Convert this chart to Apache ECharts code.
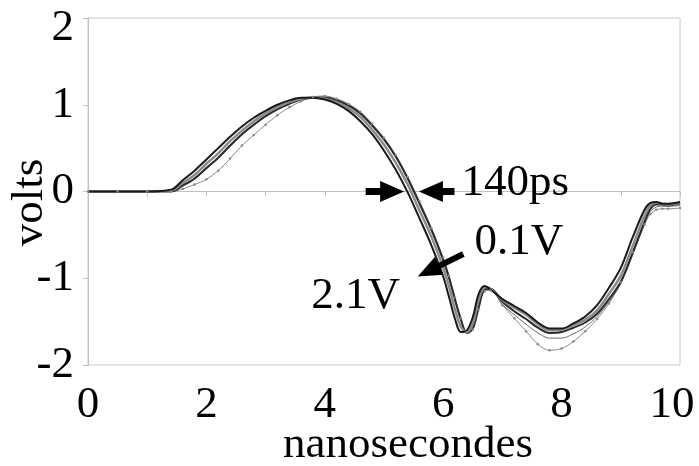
<!DOCTYPE html>
<html>
<head>
<meta charset="utf-8">
<script src="https://cdn.jsdelivr.net/npm/echarts@6/dist/echarts.min.js"></script>
<style>
html,body{margin:0;padding:0;background:#fff;}
#c{width:699px;height:466px;}
</style>
</head>
<body>
<div id="c"></div>
<script>
// time axis (nanosecondes)
var timeNs = [0,0.5,1.0,1.4,1.6,1.8,2.0,2.2,2.4,2.6,2.8,3.0,3.2,3.4,3.6,3.8,4.0,4.2,4.4,4.6,4.8,5.0,5.2,5.4,5.6,5.8,6.0,6.1,6.2,6.3,6.4,6.5,6.6,6.7,6.8,7.0,7.2,7.4,7.6,7.8,8.0,8.2,8.4,8.6,8.8,9.0,9.2,9.4,9.5,9.6,9.7,9.8,10.0];

// bundle of traces (volts)
var traceEarly = [0,0,0,0.02,0.13,0.24,0.37,0.50,0.63,0.75,0.85,0.93,1.00,1.05,1.08,1.08,1.06,1.01,0.93,0.81,0.66,0.47,0.25,-0.01,-0.31,-0.62,-0.98,-1.22,-1.47,-1.62,-1.60,-1.45,-1.18,-1.09,-1.13,-1.24,-1.32,-1.40,-1.51,-1.58,-1.58,-1.52,-1.44,-1.31,-1.11,-0.88,-0.53,-0.21,-0.13,-0.12,-0.14,-0.14,-0.12];
var traceMid = [0,0,0,0.01,0.10,0.19,0.32,0.44,0.58,0.70,0.81,0.90,0.97,1.03,1.07,1.08,1.07,1.03,0.96,0.86,0.71,0.54,0.33,0.08,-0.22,-0.52,-0.88,-1.10,-1.36,-1.56,-1.62,-1.52,-1.25,-1.10,-1.12,-1.25,-1.34,-1.42,-1.53,-1.60,-1.59,-1.54,-1.48,-1.37,-1.18,-0.97,-0.63,-0.28,-0.16,-0.13,-0.14,-0.15,-0.13];
var traceLate = [0,0,0,0,0.07,0.15,0.27,0.39,0.53,0.66,0.77,0.87,0.95,1.01,1.06,1.08,1.08,1.05,0.99,0.90,0.76,0.60,0.40,0.15,-0.14,-0.44,-0.79,-1.00,-1.25,-1.48,-1.63,-1.58,-1.33,-1.13,-1.12,-1.27,-1.38,-1.47,-1.57,-1.63,-1.62,-1.57,-1.51,-1.41,-1.24,-1.04,-0.71,-0.35,-0.20,-0.15,-0.15,-0.16,-0.14];
var traceLow = [0,0,0,0,0.06,0.14,0.26,0.38,0.52,0.65,0.76,0.86,0.94,1.01,1.06,1.09,1.09,1.06,1.00,0.91,0.77,0.61,0.41,0.16,-0.13,-0.43,-0.78,-0.99,-1.24,-1.47,-1.62,-1.57,-1.32,-1.13,-1.13,-1.30,-1.42,-1.53,-1.63,-1.69,-1.69,-1.64,-1.56,-1.44,-1.27,-1.06,-0.73,-0.38,-0.23,-0.18,-0.17,-0.17,-0.16];
var traceLowest = [0,0,0,0,0.03,0.08,0.14,0.24,0.38,0.53,0.65,0.77,0.88,0.97,1.04,1.09,1.10,1.07,1.01,0.92,0.78,0.62,0.42,0.17,-0.11,-0.42,-0.76,-0.97,-1.22,-1.46,-1.62,-1.59,-1.36,-1.15,-1.14,-1.31,-1.46,-1.61,-1.76,-1.83,-1.81,-1.73,-1.61,-1.47,-1.29,-1.05,-0.70,-0.38,-0.26,-0.21,-0.20,-0.20,-0.19];

// axis ticks
var xTicks = [0,2,4,6,8,10];
var yTicks = [-2,-1,0,1,2];

// annotations (data coordinates)
var arrowTails = [[4.69,0],[6.19,0],[6.34,-0.72]];
var arrowTips  = [[5.34,0],[5.59,0],[5.57,-0.98]];
var noteTexts = ['140ps','0.1V','2.1V'];
var notePos = [[6.31,0.10],[6.53,-0.58],[3.77,-1.21]];

function pairs(vals){ return timeNs.map(function(t,i){ return [t, vals[i]]; }); }

var FONT = 'Liberation Serif';
var chart = echarts.init(document.getElementById('c'), null, {renderer:'canvas'});

function line(vals, color, width, showSym){
  return {
    type:'line', data: pairs(vals), smooth:0.35,
    showSymbol: !!showSym, symbol:'circle', symbolSize:2.5,
    itemStyle:{color:'#888'},
    lineStyle:{color:color, width:width}, animation:false, z:2
  };
}

var option = {
  animation:false,
  backgroundColor:'#fff',
  grid:{left:88, right:19, top:18, bottom:101, show:true, borderColor:'#c8c8c8', borderWidth:1,
        containLabel:false, outerBoundsMode:'none'},
  xAxis:{
    type:'value', min:0, max:10, interval:1,
    axisLine:{lineStyle:{color:'#c0c0c0', width:1}},
    axisTick:{show:true, length:5, lineStyle:{color:'#c0c0c0'}},
    splitLine:{show:false},
    axisLabel:{fontFamily:FONT, fontSize:45, color:'#000', margin:18,
      formatter:function(v){
        if (xTicks.indexOf(v) < 0) return '';
        return v === 10 ? '{r|' + v + '}' : String(v);
      },
      rich:{r:{fontFamily:FONT, fontSize:45, color:'#000', padding:[0,16,0,0]}}},
    name:'nanosecondes', nameLocation:'middle', nameGap:58, nameMoveOverlap:false,
    nameTextStyle:{fontFamily:FONT, fontSize:45, color:'#000', padding:[0,0,0,48]}
  },
  yAxis:{
    type:'value', min:-2, max:2, interval:1,
    axisLine:{show:true, lineStyle:{color:'#c0c0c0', width:1}},
    axisTick:{show:true, length:5, lineStyle:{color:'#c0c0c0'}},
    splitLine:{show:false},
    axisLabel:{fontFamily:FONT, fontSize:45, color:'#000', margin:14,
      formatter:function(v){
        if (yTicks.indexOf(v) < 0) return '';
        return v === 2 ? '{t|' + v + '}' : String(v);
      },
      rich:{t:{fontFamily:FONT, fontSize:45, color:'#000', padding:[20,0,0,0]}}},
    name:'volts', nameLocation:'middle', nameGap:35, nameMoveOverlap:false,
    nameTextStyle:{fontFamily:FONT, fontSize:45, color:'#000', padding:[0,22,0,0]}
  },
  series:[
    line(traceLowest, '#8a8a8a', 1, true),
    line(traceLow, '#6a6a6a', 1),
    line(traceLate, '#2a2a2a', 2),
    line(traceMid, '#8a8a8a', 2.5),
    line(traceEarly, '#1a1a1a', 2)
  ]
};
chart.setOption(option);

function arrowPoly(p0, p1, headLen, headW, shaftW){
  var dx = p1[0]-p0[0], dy = p1[1]-p0[1];
  var L = Math.sqrt(dx*dx+dy*dy); var ux = dx/L, uy = dy/L; var nx = -uy, ny = ux;
  var bx = p1[0]-ux*headLen, by = p1[1]-uy*headLen;
  var s = shaftW/2, h = headW/2;
  return [
    [p0[0]+nx*s, p0[1]+ny*s], [bx+nx*s, by+ny*s], [bx+nx*h, by+ny*h], [p1[0],p1[1]],
    [bx-nx*h, by-ny*h], [bx-nx*s, by-ny*s], [p0[0]-nx*s, p0[1]-ny*s]
  ];
}

var g = [];
for (var i=0;i<arrowTails.length;i++){
  var a = chart.convertToPixel({gridIndex:0}, arrowTails[i]);
  var b = chart.convertToPixel({gridIndex:0}, arrowTips[i]);
  g.push({type:'polygon', shape:{points:arrowPoly(a,b, 24, i<2?21:20, i<2?7:6)}, style:{fill:'#000'}, z:10});
}
for (var j=0;j<noteTexts.length;j++){
  var p = chart.convertToPixel({gridIndex:0}, notePos[j]);
  g.push({type:'text', x:p[0], y:p[1], style:{text:noteTexts[j], font:'45px "Liberation Serif"', fill:'#000', align:'left', verticalAlign:'middle'}, z:10});
}
chart.setOption({graphic:g});
</script>
</body>
</html>
